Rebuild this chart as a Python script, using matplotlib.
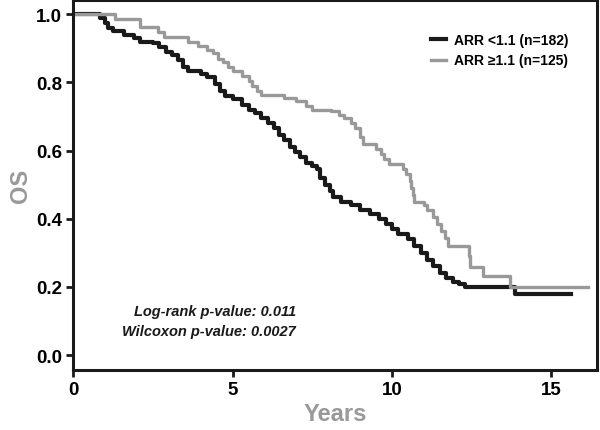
import matplotlib.pyplot as plt

# Kaplan-Meier steps (time in years, survival after each drop)
low_t = [0, 0.85, 1.0, 1.1, 1.25, 1.6, 1.9, 2.1, 2.5, 2.7, 2.9, 3.1, 3.3, 3.45, 3.6,
         4.0, 4.2, 4.45, 4.6, 4.75, 5.0, 5.3, 5.5, 5.7, 5.9, 6.1, 6.3, 6.45, 6.6, 6.8,
         6.95, 7.1, 7.3, 7.5, 7.65, 7.75, 7.9, 8.05, 8.15, 8.4, 8.7, 9.0, 9.3, 9.6,
         9.8, 10.0, 10.2, 10.5, 10.7, 10.9, 11.1, 11.3, 11.5, 11.7, 11.9, 12.1, 12.3,
         13.85, 15.6]
low_s = [1.0, 0.99, 0.975, 0.96, 0.95, 0.94, 0.93, 0.92, 0.915, 0.905, 0.89, 0.88,
         0.865, 0.845, 0.835, 0.825, 0.815, 0.795, 0.775, 0.76, 0.75, 0.735, 0.72,
         0.71, 0.695, 0.68, 0.665, 0.645, 0.63, 0.61, 0.595, 0.58, 0.565, 0.555,
         0.545, 0.52, 0.5, 0.48, 0.465, 0.45, 0.44, 0.425, 0.415, 0.4, 0.385, 0.37,
         0.355, 0.34, 0.32, 0.3, 0.28, 0.26, 0.24, 0.225, 0.215, 0.21, 0.2, 0.178,
         0.178]

high_t = [0, 1.3, 2.1, 2.66, 2.85, 3.6, 3.9, 4.2, 4.4, 4.55, 4.7, 4.85, 5.0, 5.3, 5.5,
          5.6, 5.75, 5.9, 6.6, 7.0, 7.3, 7.5, 8.1, 8.35, 8.5, 8.7, 8.85, 9.0, 9.1, 9.5,
          9.65, 9.75, 9.9, 10.35, 10.45, 10.55, 10.6, 10.65, 10.7, 11.0, 11.1, 11.3,
          11.4, 11.55, 11.65, 11.75, 12.4, 12.45, 12.85, 13.7, 16.15]
high_s = [1.0, 0.985, 0.962, 0.947, 0.933, 0.918, 0.906, 0.895, 0.885, 0.87, 0.86,
          0.845, 0.835, 0.82, 0.805, 0.79, 0.775, 0.762, 0.755, 0.745, 0.73, 0.72,
          0.715, 0.705, 0.695, 0.68, 0.665, 0.64, 0.62, 0.605, 0.59, 0.575, 0.56,
          0.545, 0.53, 0.51, 0.49, 0.47, 0.45, 0.44, 0.425, 0.405, 0.385, 0.365,
          0.345, 0.32, 0.29, 0.258, 0.232, 0.2, 0.2]

labels = ['ARR <1.1 (n=182)', 'ARR \u22651.1 (n=125)']
pvals = ['Log-rank p-value: 0.011', 'Wilcoxon p-value: 0.0027']

plt.rcParams['font.family'] = ['Liberation Sans', 'DejaVu Sans']

fig = plt.figure(figsize=(6, 4.31), dpi=100)
ax = fig.add_axes([0.122, 0.139, 0.873, 0.858])

ax.step(low_t, low_s, where='post', color='#1a1a1a', lw=3.0, label=labels[0])
ax.step(high_t, high_s, where='post', color='#999999', lw=2.4, label=labels[1])

ax.set_xlim(0, 16.43)
ax.set_ylim(-0.044, 1.041)
ax.set_xticks([0, 5, 10, 15])
ax.set_yticks([0.0, 0.2, 0.4, 0.6, 0.8, 1.0])
ax.set_yticklabels(['0.0', '0.2', '0.4', '0.6', '0.8', '1.0'])
for lab in ax.get_xticklabels() + ax.get_yticklabels():
    lab.set_fontweight('bold')
    lab.set_fontsize(13.5)
ax.tick_params(direction='out', length=5, width=2, color='#1a1a1a', pad=3)

for sp in ax.spines.values():
    sp.set_linewidth(2.2)
    sp.set_color('#1a1a1a')

ax.set_xlabel('Years', fontsize=17, fontweight='bold', color='#999999', labelpad=3)
ax.set_ylabel('OS', fontsize=17, fontweight='bold', color='#999999', labelpad=3)

ax.legend(loc='upper right', bbox_to_anchor=(0.97, 0.945), frameon=False,
          handlelength=1.1, handletextpad=0.6, labelspacing=0.45,
          prop={'weight': 'bold', 'size': 10})

ax.text(0.425, 0.18, pvals[0] + '\n' + pvals[1], transform=ax.transAxes,
        ha='right', va='top', fontsize=10.5, fontstyle='italic', fontweight='bold',
        linespacing=1.6, color='#1a1a1a', multialignment='right')

fig.savefig('out.png', dpi=100)
